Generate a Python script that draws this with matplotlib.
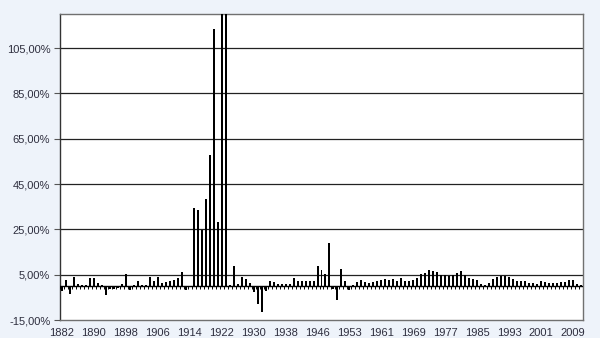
import matplotlib
matplotlib.use("Agg")
import matplotlib.pyplot as plt
from matplotlib.ticker import FuncFormatter
import numpy as np

plt.rcParams['font.family'] = ['Liberation Sans', 'DejaVu Sans']

# category labels (one extra category between 1946 and 1953 in the source)
years = [str(y) for y in range(1882, 1948)] + ["1947"] + [str(y) for y in range(1948, 2012)]
# annual rate, %
values = [
    -2.3, 2.5, -3.5, 3.8, 0.8, 0.5, 0.5, 3.4, 3.4, 1.5,
    0.5, -4.0, -1.2, -1.2, -1.0, 0.8, 5.3, -1.8, 0.5, 2.0,
    0.5, 0.5, 4.0, 2.0, 4.0, 1.5, 1.8, 2.2, 2.5, 3.5,
    6.2, -1.8, -0.5, 34.4, 33.7, 24.9, 38.4, 58.0, 113.4, 28.2,
    130.0, 130.0, 0.5, 9.0, 1.0, 4.1, 3.1, 1.5, -2.5, -8.0,
    -11.3, -2.2, 2.2, 1.6, 0.7, 0.7, 0.7, 0.7, 3.4, 2.2,
    2.3, 2.0, 2.2, 2.2, 9.0, 7.2, 5.3, 19.0, -1.2, -6.0,
    7.5, 2.0, -1.6, 0.5, 1.6, 2.5, 1.9, 1.3, 1.6, 2.3,
    2.8, 3.1, 2.5, 3.1, 2.3, 3.5, 2.0, 2.0, 2.8, 3.5,
    5.5, 5.7, 6.9, 6.8, 6.2, 5.0, 4.7, 4.3, 5.0, 5.7,
    6.8, 5.0, 3.5, 2.9, 2.8, 0.9, 0.6, 1.3, 3.2, 3.8,
    4.6, 4.6, 3.8, 3.2, 2.4, 2.1, 2.4, 1.3, 1.3, 1.0,
    2.1, 1.8, 1.3, 1.5, 1.5, 1.8, 1.8, 2.8, 2.5, 0.9,
    0.3,
]
y_ticks = [-15, 5, 25, 45, 65, 85, 105]
y_min, y_max = -15, 120
label_step = 8

W, H = 600, 338
fig = plt.figure(figsize=(W / 100, H / 100), dpi=100)
fig.patch.set_facecolor('#EEF3FA')
ax = fig.add_axes([60 / W, 1 - 320 / H, (583 - 60) / W, (320 - 14) / H])
ax.set_facecolor('white')

n = len(values)
x = np.arange(n)
ax.bar(x, values, width=0.5, color='black', zorder=3)

ax.set_xlim(-0.5, n - 0.5)
ax.set_ylim(y_min, y_max)

for yt in y_ticks[1:]:
    ax.axhline(yt, color='#222222', lw=0.9, zorder=1)
ax.axhline(0, color='black', lw=1.0, zorder=4)
# category tick marks hanging below the zero axis
ax.vlines(np.arange(n + 1) - 0.5, -1.3, 0, color='black', lw=0.7, zorder=4)

ax.set_yticks(y_ticks)
ax.yaxis.set_major_formatter(FuncFormatter(lambda v, p: f"{v:.2f}%".replace('.', ',')))
ax.tick_params(axis='y', length=4, width=0.8, color='#555555', labelsize=8,
               labelcolor='#2e2e3e', pad=3)

ax.set_xticks(x[::label_step])
ax.set_xticklabels(years[::label_step])
ax.tick_params(axis='x', length=0, labelsize=8, labelcolor='#2e2e3e', pad=6)

for s in ax.spines.values():
    s.set_color('#707070')
    s.set_linewidth(1.0)
ax.spines['left'].set_color('#333333')

fig.savefig('out.png', dpi=100, facecolor=fig.get_facecolor())
